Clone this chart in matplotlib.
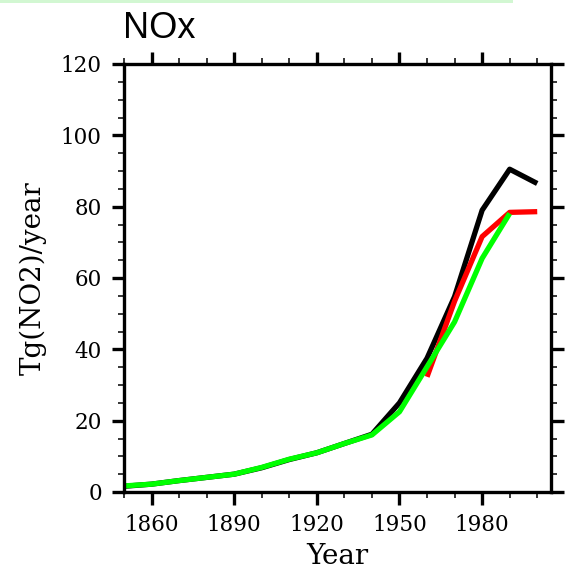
import numpy as np
import matplotlib
matplotlib.use('Agg')
import matplotlib.pyplot as plt
from matplotlib.ticker import MultipleLocator

# decadal NOx emissions, Tg(NO2)/year
yr_black = [1850, 1860, 1870, 1880, 1890, 1900, 1910, 1920, 1930, 1940,
            1950, 1960, 1970, 1980, 1990, 2000]
nox_black = [1.6, 2.2, 3.2, 4.1, 5.0, 6.8, 9.1, 11.0, 13.6, 16.2,
             25.0, 37.5, 54.8, 79.0, 90.5, 86.5]

yr_red = [1960, 1970, 1980, 1990, 2000]
nox_red = [32.3, 53.5, 71.6, 78.4, 78.6]

yr_green = [1850, 1860, 1870, 1880, 1890, 1900, 1910, 1920, 1930, 1940,
            1950, 1960, 1970, 1980, 1990]
nox_green = [1.7, 2.2, 3.2, 4.1, 5.0, 6.9, 9.2, 11.0, 13.6, 16.0,
             22.5, 35.1, 47.7, 65.5, 78.1]

xticks = [1860, 1890, 1920, 1950, 1980]
yticks = [0, 20, 40, 60, 80, 100, 120]

plt.rcParams['font.family'] = 'DejaVu Serif'

fig = plt.figure(figsize=(5.66, 5.70), dpi=100)
ax = fig.add_axes([124/566., 78/570., 427/566., 428/570.])

# faint green strip at the very top of the page
fig.add_artist(plt.Rectangle((0, 1 - 3/570.), 513/566., 3/570.,
                             transform=fig.transFigure, color='#d2f7d2', lw=0))

ax.plot(yr_black, nox_black, color='k', lw=3.8, solid_capstyle='butt')
ax.plot(yr_red, nox_red, color='r', lw=3.8, solid_capstyle='butt')
ax.plot(yr_green, nox_green, color='#00ff00', lw=3.8, solid_capstyle='butt')

ax.set_xlim(1850, 2005)
ax.set_ylim(0, 120)
ax.set_xticks(xticks)
ax.set_yticks(yticks)
ax.xaxis.set_minor_locator(MultipleLocator(10))
ax.yaxis.set_minor_locator(MultipleLocator(5))

for s in ax.spines.values():
    s.set_linewidth(2.4)
ax.tick_params(which='both', direction='out', top=True, right=True,
               labeltop=False, labelright=False)
ax.tick_params(which='major', length=9, width=2.4, labelsize=15.5)
ax.tick_params(which='minor', length=4.5, width=1.1)
ax.tick_params(axis='x', which='major', pad=7)
ax.tick_params(axis='y', which='major', pad=7)

ax.set_xlabel('Year', fontsize=20, labelpad=5)
ax.set_ylabel('Tg(NO2)/year', fontsize=20, labelpad=10)

fig.text(123/566., 1 - 37.5/570., 'NOx', family='Liberation Sans',
         fontsize=26, ha='left', va='baseline')

fig.savefig('out.png', dpi=100)
